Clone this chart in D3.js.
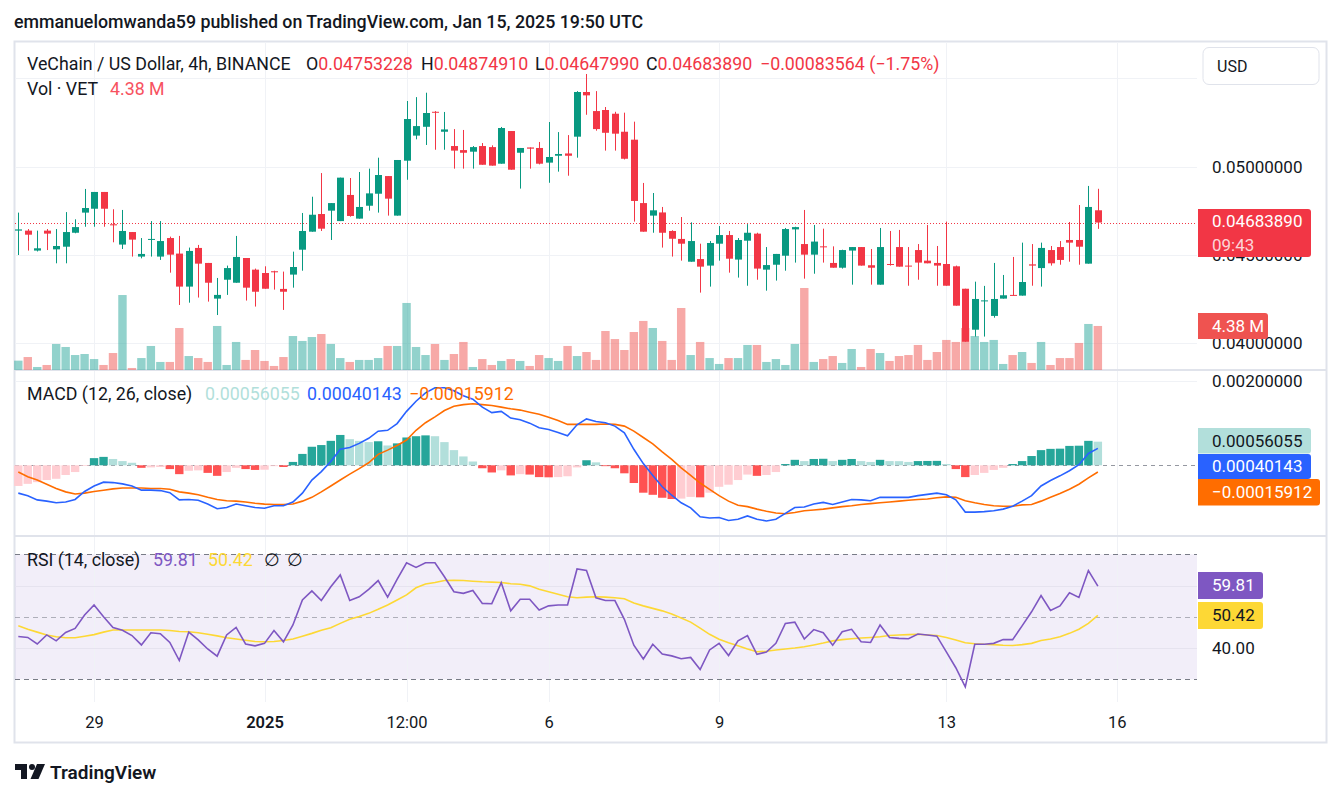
<!DOCTYPE html>
<html>
<head>
<meta charset="utf-8">
<script src="https://cdn.jsdelivr.net/npm/d3@7"></script>
<style>
  body { margin: 0; background: #fff; }
  svg text { font-family: Roboto, "Noto Sans", sans-serif; }
</style>
</head>
<body>
<svg id="chart" width="1341" height="797"></svg>
<script>
// VET/USD 4h candles, Dec 27 16:00 UTC -> Jan 15 16:00 UTC
var open = [
0.04638,0.04638,0.04525,0.04638,0.04532,0.04547,0.04626,0.04740,0.04762,0.04857,
0.04674,0.04559,0.04630,0.04491,0.04587,0.04491,0.04596,0.04508,0.04321,0.04540,
0.04455,0.04253,0.04360,0.04343,0.04483,0.04417,0.04398,0.04408,0.04308,0.04389,
0.04530,0.04632,0.04732,0.04751,0.04692,0.04840,0.04706,0.04779,0.04847,0.04947,
0.04723,0.05034,0.05176,0.05226,0.05311,0.05198,0.05117,0.05094,0.05085,0.05117,
0.05111,0.05017,0.05202,0.05079,0.05109,0.05106,0.05023,0.05062,0.05075,0.05170,
0.05423,0.05315,0.05321,0.05300,0.05198,0.05153,0.04794,0.04723,0.04741,0.04636,
0.04591,0.04462,0.04477,0.04440,0.04564,0.04613,0.04474,0.04581,0.04621,0.04417,
0.04445,0.04496,0.04645,0.04562,0.04502,0.04549,0.04455,0.04428,0.04525,0.04545,
0.04442,0.04332,0.04449,0.04545,0.04440,0.04528,0.04468,0.04455,0.04449,0.04436,
0.04309,0.04077,0.04240,0.04155,0.04253,0.04274,0.04270,0.04447,0.04426,0.04528,
0.04545,0.04585,0.04585,0.04451,0.04753228];
var high = [
0.04740,0.04647,0.04638,0.04647,0.04647,0.04743,0.04702,0.04874,0.04857,0.04857,
0.04759,0.04755,0.04630,0.04596,0.04692,0.04692,0.04604,0.04608,0.04542,0.04557,
0.04455,0.04370,0.04440,0.04608,0.04483,0.04423,0.04436,0.04411,0.04406,0.04519,
0.04738,0.04830,0.04964,0.04794,0.04938,0.04936,0.04970,0.04989,0.05051,0.04947,
0.05038,0.05372,0.05394,0.05419,0.05315,0.05310,0.05213,0.05208,0.05117,0.05134,
0.05121,0.05225,0.05202,0.05106,0.05109,0.05140,0.05253,0.05196,0.05179,0.05428,
0.05525,0.05428,0.05338,0.05311,0.05306,0.05255,0.04908,0.04851,0.04772,0.04640,
0.04715,0.04685,0.04564,0.04579,0.04664,0.04636,0.04596,0.04675,0.04626,0.04545,
0.04506,0.04653,0.04660,0.04755,0.04670,0.04649,0.04549,0.04530,0.04545,0.04545,
0.04534,0.04653,0.04636,0.04642,0.04545,0.04562,0.04670,0.04551,0.04689,0.04440,
0.04309,0.04349,0.04325,0.04455,0.04387,0.04489,0.04570,0.04562,0.04570,0.04551,
0.04579,0.04687,0.04783,0.04891,0.04874910];
var low = [
0.04500,0.04525,0.04520,0.04528,0.04453,0.04453,0.04623,0.04660,0.04660,0.04660,
0.04572,0.04534,0.04491,0.04481,0.04491,0.04472,0.04400,0.04217,0.04230,0.04259,
0.04236,0.04160,0.04274,0.04343,0.04242,0.04208,0.04309,0.04304,0.04189,0.04315,
0.04411,0.04632,0.04636,0.04585,0.04692,0.04717,0.04706,0.04751,0.04740,0.04723,
0.04723,0.04926,0.05155,0.05123,0.05096,0.05096,0.04989,0.04989,0.04989,0.05011,
0.05006,0.05017,0.04983,0.04876,0.04989,0.05013,0.04909,0.04972,0.04949,0.05051,
0.05294,0.05204,0.05091,0.05091,0.05041,0.04689,0.04632,0.04626,0.04542,0.04491,
0.04468,0.04462,0.04287,0.04321,0.04468,0.04400,0.04372,0.04326,0.04360,0.04298,
0.04355,0.04411,0.04457,0.04366,0.04394,0.04457,0.04428,0.04423,0.04332,0.04440,
0.04332,0.04332,0.04440,0.04434,0.04326,0.04360,0.04453,0.04326,0.04326,0.04213,
0.04009,0.04038,0.04038,0.04145,0.04253,0.04270,0.04270,0.04326,0.04321,0.04440,
0.04445,0.04462,0.04445,0.04451,0.04647990];
var close = [
0.04645,0.04615,0.04538,0.04621,0.04551,0.04630,0.04658,0.04766,0.04857,0.04762,
0.04668,0.04636,0.04587,0.04506,0.04591,0.04579,0.04502,0.04321,0.04523,0.04451,
0.04343,0.04274,0.04426,0.04489,0.04315,0.04292,0.04309,0.04402,0.04292,0.04432,
0.04636,0.04728,0.04649,0.04794,0.04938,0.04721,0.04772,0.04849,0.04953,0.04819,
0.05038,0.05270,0.05230,0.05304,0.05308,0.05211,0.05091,0.05079,0.05111,0.05011,
0.05006,0.05219,0.04983,0.05106,0.05102,0.05017,0.05055,0.05072,0.05062,0.05423,
0.05404,0.05213,0.05192,0.05187,0.05045,0.04806,0.04632,0.04753,0.04626,0.04592,
0.04564,0.04579,0.04434,0.04568,0.04613,0.04479,0.04585,0.04626,0.04423,0.04443,
0.04506,0.04647,0.04658,0.04502,0.04576,0.04545,0.04428,0.04528,0.04545,0.04440,
0.04428,0.04545,0.04445,0.04434,0.04436,0.04457,0.04453,0.04440,0.04326,0.04213,
0.04009,0.04251,0.04243,0.04251,0.04272,0.04270,0.04347,0.04440,0.04540,0.04453,
0.04472,0.04570,0.04547,0.04772,0.04683890];
// volume in millions of VET
var volumeM = [
0.93,1.29,0.30,0.50,2.59,2.29,1.49,1.59,1.09,0.50,
1.69,7.46,0.20,1.19,2.39,0.80,0.80,4.18,1.39,1.19,
0.80,4.38,0.50,2.79,1.00,1.99,0.90,0.40,1.29,3.38,
2.89,3.28,3.58,2.59,1.19,0.80,1.00,1.00,1.19,2.39,
2.39,6.67,2.29,1.49,2.59,1.00,1.59,2.79,0.30,1.09,
0.50,0.90,1.09,0.90,0.40,1.49,1.19,0.90,2.39,1.39,
1.79,1.00,3.88,3.08,1.99,3.78,4.88,4.18,2.89,1.00,
6.17,1.49,2.79,1.19,0.60,1.19,1.19,2.49,2.49,0.80,
1.09,0.50,2.59,8.16,0.80,1.09,1.39,0.70,2.09,0.30,
2.09,1.69,0.90,1.39,1.49,2.49,1.00,1.79,2.99,2.79,
4.18,3.38,2.79,2.99,0.60,1.49,1.79,0.70,2.79,0.50,
1.19,1.19,2.69,4.58,4.38];
// MACD (12, 26, close)
var macdHist = [
-0.00049,-0.00044,-0.00040,-0.00035,-0.00032,-0.00023,-0.00016,-0.000015,0.00017,0.00020,
0.00015,0.00010,0.00006,-0.00006,-0.00005,-0.00004,-0.00009,-0.00021,-0.00013,-0.00012,
-0.00018,-0.00025,-0.00016,-0.00006,-0.00009,-0.00011,-0.000105,-0.00002,-0.00004,0.00008,
0.00027,0.00044,0.00048,0.00058,0.00072,0.00062,0.00058,0.00055,0.00057,0.00047,
0.00052,0.00066,0.00069,0.00071,0.00069,0.00055,0.00036,0.00021,0.00009,-0.00007,
-0.00017,-0.00012,-0.00024,-0.00021,-0.00022,-0.00028,-0.000285,-0.00028,-0.00026,-0.00005,
0.00012,0.00007,-0.00002,-0.00007,-0.00019,-0.00042,-0.00065,-0.00070,-0.00077,-0.00080,
-0.00079,-0.00075,-0.00076,-0.00065,-0.00051,-0.00046,-0.00035,-0.00022,-0.00025,-0.00023,
-0.00016,0.00003,0.00013,0.00010,0.00015,0.000155,0.00010,0.00013,0.00015,0.00010,
0.00008,0.00013,0.00010,0.000098,0.00008,0.00010,0.000103,0.000105,0.00003,-0.00009,
-0.00028,-0.00023,-0.00018,-0.00011,-0.00006,0.00003,0.00010,0.00022,0.00036,0.00039,
0.000395,0.00046,0.000465,0.00058,0.00056055];
var macdLine = [
-0.00066,-0.00072,-0.00082,-0.00085,-0.00089,-0.00087,-0.00081,-0.00062,-0.00049,-0.00040,
-0.00041,-0.00044,-0.00049,-0.00059,-0.00059,-0.00060,-0.00065,-0.00082,-0.00081,-0.00083,
-0.00092,-0.00103,-0.00100,-0.00092,-0.00096,-0.00100,-0.00102,-0.00096,-0.00096,-0.00087,
-0.00066,-0.00035,-0.00015,0.00009,0.00038,0.00042,0.00052,0.00064,0.00081,0.00083,
0.00099,0.00128,0.00152,0.00172,0.00184,0.00184,0.00177,0.00165,0.00157,0.00138,
0.00125,0.00128,0.00112,0.00108,0.00100,0.00089,0.00085,0.00078,0.00070,0.00096,
0.00110,0.00104,0.00101,0.00093,0.00077,0.00038,0.00004,-0.00024,-0.00051,-0.00071,
-0.00089,-0.00101,-0.00122,-0.00125,-0.00124,-0.00131,-0.00128,-0.00120,-0.00128,-0.00132,
-0.00128,-0.00114,-0.00100,-0.00099,-0.00092,-0.00088,-0.00093,-0.00087,-0.00081,-0.00082,
-0.00084,-0.00076,-0.00076,-0.00076,-0.00076,-0.00072,-0.00069,-0.00066,-0.00070,-0.00082,
-0.00111,-0.00111,-0.00110,-0.00108,-0.00104,-0.00097,-0.00085,-0.00072,-0.00049,-0.00036,
-0.00025,-0.00013,0.000015,0.00028,0.00040143];
var signalLine = [
-0.00016,-0.00027,-0.00035,-0.00045,-0.00055,-0.00063,-0.00068,-0.00066,-0.00062,-0.00059,
-0.00056,-0.00054,-0.00054,-0.00054,-0.00055,-0.00055,-0.00057,-0.00063,-0.00066,-0.00070,
-0.00076,-0.00081,-0.00084,-0.00085,-0.00087,-0.00090,-0.00092,-0.00093,-0.00093,-0.00092,
-0.00085,-0.00076,-0.00063,-0.00049,-0.00035,-0.00021,-0.00008,0.00006,0.00026,0.00036,
0.00047,0.00060,0.00083,0.00101,0.00115,0.00130,0.00140,0.00144,0.00146,0.00144,
0.00142,0.00138,0.00134,0.00131,0.00126,0.00121,0.00114,0.00106,0.00097,0.00097,
0.00097,0.00097,0.00098,0.00097,0.00093,0.00081,0.00066,0.00051,0.00032,0.00014,
-0.00006,-0.00024,-0.00042,-0.00057,-0.00072,-0.00085,-0.00095,-0.00098,-0.00104,-0.00109,
-0.00113,-0.00115,-0.00112,-0.00108,-0.00106,-0.00104,-0.00101,-0.00098,-0.00096,-0.00093,
-0.00091,-0.00089,-0.00087,-0.00085,-0.00083,-0.00081,-0.00080,-0.00077,-0.00075,-0.00076,
-0.00084,-0.00089,-0.00093,-0.00096,-0.00097,-0.00097,-0.00094,-0.00093,-0.00085,-0.00076,
-0.00067,-0.00057,-0.00045,-0.00030,-0.00015912];
// RSI (14, close) and its moving average
var rsi = [
43.7,43.4,41.3,44.2,42.3,45.0,46.3,50.6,53.8,50.0,
46.6,45.7,44.0,41.0,44.9,44.6,41.8,36.0,45.1,42.6,
39.7,37.4,44.2,46.6,41.3,40.7,41.5,45.6,42.0,47.4,
55.4,58.3,55.2,59.6,63.4,55.2,56.4,58.8,61.6,56.3,
62.0,67.3,65.8,67.3,67.3,62.8,58.0,57.5,58.4,54.3,
54.2,60.9,51.9,55.6,55.6,52.2,53.5,53.8,53.8,65.3,
64.8,56.1,55.2,55.2,49.2,40.9,36.5,41.2,38.1,37.5,
36.6,37.0,33.1,39.4,41.5,37.6,42.3,44.0,38.0,38.7,
41.5,47.9,48.3,42.9,45.9,44.9,40.9,45.2,46.0,42.0,
41.8,47.4,43.4,43.1,43.0,44.5,44.2,43.8,38.8,33.7,
27.6,41.2,41.2,41.5,42.7,42.7,47.1,51.6,56.8,52.0,
53.5,57.7,56.2,64.8,59.81];
var rsiMa = [
47.1,46.0,45.1,44.2,43.6,43.3,43.3,43.8,44.3,45.1,
45.8,45.8,45.8,45.8,45.8,45.8,45.6,45.3,45.2,44.9,
44.4,43.9,43.3,42.9,42.5,42.1,42.0,42.1,42.4,42.9,
43.8,44.7,45.7,46.5,47.9,49.2,50.1,51.1,52.4,53.8,
55.4,57.0,59.3,60.5,61.0,61.6,61.7,61.6,61.4,61.2,
61.1,61.0,60.6,60.4,59.9,58.8,58.0,57.2,56.4,56.1,
56.3,56.4,56.3,56.1,55.8,54.4,53.5,52.7,51.9,50.9,
49.6,48.3,46.4,44.4,42.8,41.7,40.7,39.7,38.8,39.0,
39.4,39.7,40.0,40.4,41.0,41.6,42.3,42.7,43.0,43.2,
43.4,43.6,44.0,44.2,44.3,44.4,44.2,44.0,43.4,42.6,
41.7,41.4,41.2,41.1,40.9,40.8,41.1,41.5,42.4,42.9,
43.6,44.7,46.0,47.9,50.42];

var priceGrid = [0.04, 0.045, 0.05, 0.055];
var priceLabels = [0.04, 0.045, 0.05];   // 0.055 sits under the USD button
var macdTicks = [0.002];
var rsiGrid = [40, 60];
var rsiLabels = [40];                    // 60 sits under the RSI tag
var timeTicks = [Date.UTC(2024,11,29), Date.UTC(2025,0,1), Date.UTC(2025,0,3,12), Date.UTC(2025,0,6),
                 Date.UTC(2025,0,9), Date.UTC(2025,0,13), Date.UTC(2025,0,16)];
var timeLabels = ["29", "2025", "12:00", "6", "9", "13", "16"];

var firstBar = new Date(Date.UTC(2024,11,27,16));
var times = d3.utcHour.every(4).range(firstBar, new Date(Date.UTC(2025,0,15,17)));

var UP = "#089981", DOWN = "#f23645", INK = "#131722", GRID = "#f0f2f6";
var left = 15, right = 1197;

var svg = d3.select("#chart");

var x = d3.scaleUtc()
    .domain([firstBar, new Date(Date.UTC(2025,0,16))])
    .range([18.3, 1116.8]);
var y = d3.scaleLinear().domain([0.04, 0.05]).range([343.3, 166.7]);
var yVol = d3.scaleLinear().domain([0, 10]).range([370, 269.5]);
var yMacd = d3.scaleLinear().domain([0, 0.002]).range([465.3, 381]);
var yRsi = d3.scaleLinear().domain([30, 70]).range([679.3, 554.3]);

// header line
svg.append("text").attr("x", 14).attr("y", 28)
  .attr("font-size", 17.8).attr("font-weight", 500).attr("fill", INK)
  .text("emmanuelomwanda59 published on TradingView.com, Jan 15, 2025 19:50 UTC");

// frame
svg.append("rect").attr("x", 14.5).attr("y", 41.5).attr("width", 1312).attr("height", 701)
  .attr("fill", "#fff").attr("stroke", "#e0e3eb").attr("stroke-width", 2);

// RSI band
svg.append("rect").attr("x", left).attr("width", right - left)
  .attr("y", yRsi(70)).attr("height", yRsi(30) - yRsi(70))
  .attr("fill", "rgba(126,87,194,0.1)");

// grid
var grid = svg.append("g");
grid.selectAll(".vg").data(timeTicks).enter().append("line")
  .attr("x1", d => Math.round(x(d)) + 0.5).attr("x2", d => Math.round(x(d)) + 0.5)
  .attr("y1", 42).attr("y2", 702).attr("stroke", GRID);
grid.selectAll(".hp").data(priceGrid).enter().append("line")
  .attr("x1", left).attr("x2", right)
  .attr("y1", d => Math.round(y(d)) + 0.5).attr("y2", d => Math.round(y(d)) + 0.5).attr("stroke", GRID);
grid.selectAll(".hm").data(macdTicks).enter().append("line")
  .attr("x1", left).attr("x2", right)
  .attr("y1", d => Math.round(yMacd(d)) + 0.5).attr("y2", d => Math.round(yMacd(d)) + 0.5).attr("stroke", GRID);
svg.selectAll(".hr").data(rsiGrid).enter().append("line")
  .attr("x1", left).attr("x2", right)
  .attr("y1", d => Math.round(yRsi(d)) + 0.5).attr("y2", d => Math.round(yRsi(d)) + 0.5)
  .attr("stroke", "#e6e3ef");
svg.selectAll(".rb").data([70, 50, 30]).enter().append("line")
  .attr("x1", left).attr("x2", right)
  .attr("y1", d => Math.round(yRsi(d)) + 0.5).attr("y2", d => Math.round(yRsi(d)) + 0.5)
  .attr("stroke", "#787b86").attr("stroke-dasharray", "5,4")
  .attr("opacity", d => d == 50 ? 0.55 : 1);

// pane separators
svg.selectAll(".sep").data([370, 536]).enter().append("line")
  .attr("x1", 15).attr("x2", 1326).attr("y1", d => d).attr("y2", d => d)
  .attr("stroke", "#e0e3eb").attr("stroke-width", 2);

var idx = d3.range(times.length);
function isUp(i) { return close[i] >= open[i]; }

// volume
svg.append("g").selectAll("rect").data(idx).enter().append("rect")
  .attr("x", i => x(times[i]) - 4.2).attr("width", 8.4)
  .attr("y", i => yVol(volumeM[i])).attr("height", i => 370 - yVol(volumeM[i]))
  .attr("fill", i => isUp(i) ? "rgba(38,166,154,0.5)" : "rgba(239,83,80,0.5)");

// last price line
var last = close.length - 1;
svg.append("line").attr("x1", left).attr("x2", right)
  .attr("y1", Math.round(y(close[last])) + 0.5).attr("y2", Math.round(y(close[last])) + 0.5)
  .attr("stroke", DOWN).attr("stroke-dasharray", "1,2");

// candles
var candles = svg.append("g").selectAll("g").data(idx).enter().append("g");
candles.append("line")
  .attr("x1", i => Math.round(x(times[i])) + 0.5).attr("x2", i => Math.round(x(times[i])) + 0.5)
  .attr("y1", i => y(high[i])).attr("y2", i => y(low[i]))
  .attr("stroke", i => isUp(i) ? UP : DOWN);
candles.append("rect")
  .attr("x", i => Math.round(x(times[i])) - 3).attr("width", 7)
  .attr("y", i => y(Math.max(open[i], close[i])))
  .attr("height", i => Math.max(1, y(Math.min(open[i], close[i])) - y(Math.max(open[i], close[i]))))
  .attr("fill", i => isUp(i) ? UP : DOWN);

// MACD histogram
svg.append("line").attr("x1", left).attr("x2", right)
  .attr("y1", Math.round(yMacd(0)) + 0.5).attr("y2", Math.round(yMacd(0)) + 0.5)
  .attr("stroke", "#9598a1").attr("stroke-dasharray", "4,4");
svg.append("g").selectAll("rect").data(idx).enter().append("rect")
  .attr("x", i => x(times[i]) - 4.2).attr("width", 8.4)
  .attr("y", i => Math.min(yMacd(macdHist[i]), yMacd(0)))
  .attr("height", i => Math.abs(yMacd(macdHist[i]) - yMacd(0)))
  .attr("fill", function(i) {
    var h = macdHist[i], p = i > 0 ? macdHist[i-1] : -1;
    if (h >= 0) return h > p ? "#26a69a" : "#b2dfdb";
    return h < p ? "#ff5252" : "#ffcdd2";
  });

var lineMacd = d3.line().x((d, i) => x(times[i])).y(d => yMacd(d));
svg.append("path").datum(signalLine).attr("d", lineMacd)
  .attr("fill", "none").attr("stroke", "#ff6d00").attr("stroke-width", 1.6);
svg.append("path").datum(macdLine).attr("d", lineMacd)
  .attr("fill", "none").attr("stroke", "#2962ff").attr("stroke-width", 1.6);

// RSI
var lineRsi = d3.line().x((d, i) => x(times[i])).y(d => yRsi(d));
svg.append("path").datum(rsiMa).attr("d", lineRsi)
  .attr("fill", "none").attr("stroke", "#fdd835").attr("stroke-width", 1.6);
svg.append("path").datum(rsi).attr("d", lineRsi)
  .attr("fill", "none").attr("stroke", "#7e57c2").attr("stroke-width", 1.6);

// time axis
var xAxis = d3.axisBottom(x).tickValues(timeTicks.map(d => new Date(d)))
  .tickFormat((d, i) => timeLabels[i]).tickSize(0);
var gx = svg.append("g").attr("transform", "translate(0,713)").call(xAxis);
gx.select(".domain").remove();
gx.selectAll("text").attr("font-size", 16.5).attr("fill", INK)
  .attr("font-family", "Roboto, sans-serif")
  .attr("font-weight", (d, i) => timeLabels[i] == "2025" ? 600 : 400);

// right price scales
function rightAxis(scale, ticks, fmt) {
  var g = svg.append("g").attr("transform", "translate(1212,0)")
    .call(d3.axisRight(scale).tickValues(ticks).tickFormat(fmt).tickSize(0).tickPadding(0));
  g.select(".domain").remove();
  g.selectAll("text").attr("font-size", 17).attr("fill", INK).attr("font-family", "Roboto, sans-serif");
}
rightAxis(y, priceLabels, d3.format(".8f"));
rightAxis(yMacd, macdTicks, d3.format(".8f"));
rightAxis(yRsi, rsiLabels, d3.format(".2f"));

// USD button
svg.append("rect").attr("x", 1203).attr("y", 47.5).attr("width", 116).attr("height", 37).attr("rx", 6)
  .attr("fill", "#fff").attr("stroke", "#e0e3eb");
svg.append("text").attr("x", 1217).attr("y", 66).attr("dy", "0.35em")
  .attr("font-size", 16).attr("fill", INK).text("USD");

// value tags on the scales
function tag(x0, y0, w, h, fill, lines, colors) {
  svg.append("path")
    .attr("d", "M" + x0 + "," + y0 + "h" + (w - 3) + "a3,3 0 0 1 3,3v" + (h - 6) + "a3,3 0 0 1 -3,3h" + (3 - w) + "z")
    .attr("fill", fill);
  lines.forEach(function(t, k) {
    svg.append("text").attr("x", x0 + 14).attr("y", y0 + (k + 0.5) * h / lines.length).attr("dy", "0.35em")
      .attr("font-size", 17).attr("fill", colors[k]).text(t);
  });
}
var fmt8 = d3.format(".8f");
tag(1198, 209, 113, 48, "#f23645", [fmt8(close[last]), "09:43"], ["#fff", "rgba(255,255,255,0.8)"]);
tag(1198, 313, 70, 26, "#ef5350", [volumeM[last] + " M"], ["#fff"]);
tag(1198, 428, 113, 25.5, "#b2dfdb", [fmt8(macdHist[last])], [INK]);
tag(1198, 454, 113, 25, "#2962ff", [fmt8(macdLine[last])], ["#fff"]);
tag(1198, 479, 122, 26.5, "#ff6d00", [fmt8(signalLine[last]).replace("-", "\u2212")], ["#fff"]);
tag(1198, 572, 65, 27, "#7e57c2", [d3.format(".2f")(rsi[last])], ["#fff"]);
tag(1198, 602, 65, 27, "#fdd835", [d3.format(".2f")(rsiMa[last])], [INK]);

// legends
function legend(xp, yp, parts) {
  var t = svg.append("text").attr("x", xp).attr("y", yp).attr("dy", "0.35em").attr("font-size", 17.8);
  parts.forEach(function(p) {
    var s = t.append("tspan").attr("fill", p[1]).text(p[0]);
    if (p[2] != null) s.attr("x", p[2]);
  });
}
legend(27, 64, [["VeChain / US Dollar, 4h, BINANCE", INK],
  ["O", INK, 306], [fmt8(open[last]), DOWN],
  ["H", INK, 421], [fmt8(high[last]), DOWN],
  ["L", INK, 535], [fmt8(low[last]), DOWN],
  ["C", INK, 646], [fmt8(close[last]), DOWN],
  ["\u22120.00083564 (\u22121.75%)", DOWN, 760]]);
legend(27, 89, [["Vol \u00b7 VET", INK], ["4.38 M", "#f7525f", 110]]);
legend(27, 394, [["MACD (12, 26, close)", INK], [fmt8(macdHist[last]), "#b2dfdb", 205],
  [fmt8(macdLine[last]), "#2962ff", 307], [fmt8(signalLine[last]).replace("-", "\u2212"), "#ff6d00", 409]]);
legend(27, 560, [["RSI (14, close)", INK], ["59.81", "#7e57c2", 153], ["50.42", "#fdd835", 208],
  ["\u2205", INK, 264], ["\u2205", INK, 287]]);

// TradingView logo
var logo = svg.append("g").attr("transform", "translate(15,764)").attr("fill", INK);
logo.append("path").attr("d", "M0,0H12V15H6V6H0Z");
logo.append("circle").attr("cx", 17).attr("cy", 3).attr("r", 3);
logo.append("path").attr("d", "M22,0H30L23.5,15H15.5Z");
svg.append("text").attr("x", 50).attr("y", 772).attr("dy", "0.35em")
  .attr("font-size", 19).attr("font-weight", 600).attr("fill", INK).text("TradingView");
</script>
</body>
</html>
